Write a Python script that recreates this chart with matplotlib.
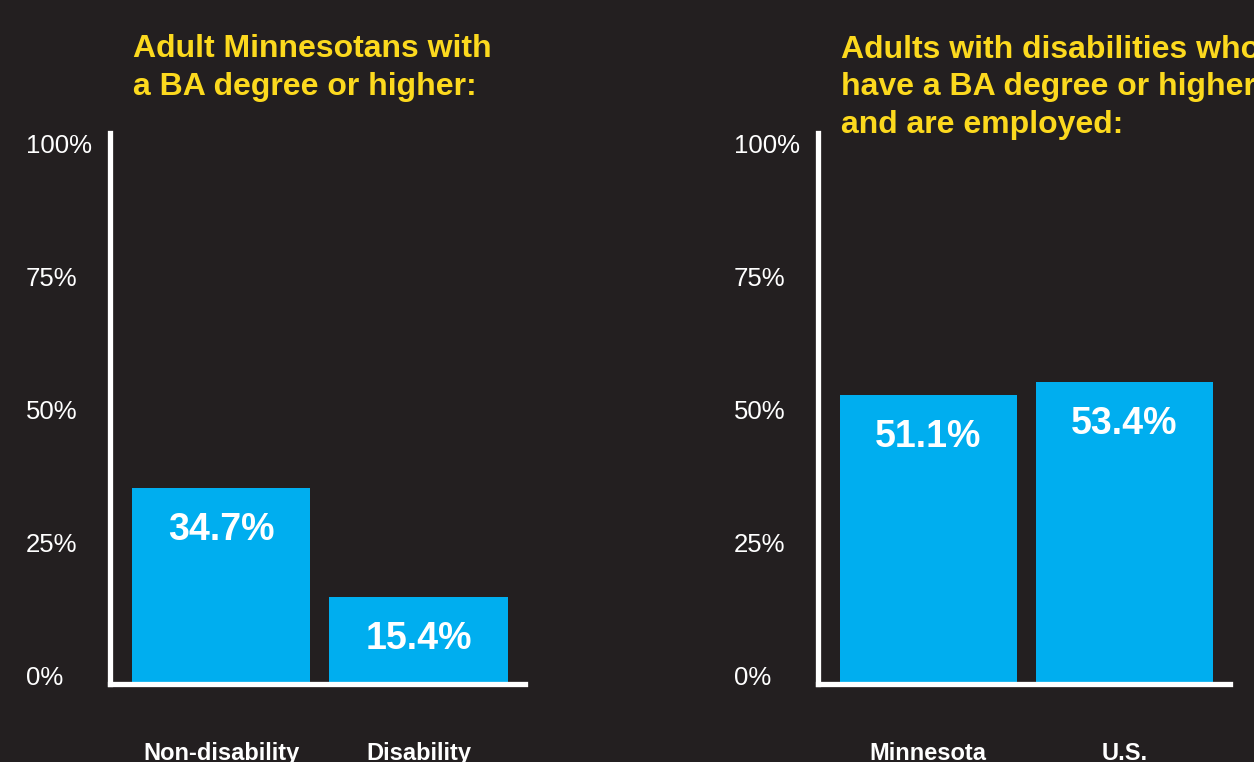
import matplotlib
matplotlib.use("Agg")
import matplotlib.pyplot as plt

# Data
left_categories = ["Non-disability", "Disability"]
left_values = [34.7, 15.4]
left_title = "Adult Minnesotans with\na BA degree or higher:"

right_categories = ["Minnesota", "U.S."]
right_values = [51.1, 53.4]
right_title = "Adults with disabilities who\nhave a BA degree or higher\nand are employed:"

tick_values = [0, 25, 50, 75, 100]
tick_labels = ["0%", "25%", "50%", "75%", "100%"]

BG = "#231f20"
BAR = "#00aeef"
YELLOW = "#fcd91e"
WHITE = "#ffffff"

plt.rcParams["font.family"] = ["Liberation Sans", "DejaVu Sans"]

fig = plt.figure(figsize=(12.54, 7.62), dpi=100, facecolor=BG)

W, H = 1254.0, 762.0


def panel(x0_px, x1_px, cats, vals, title, title_x_px, title_base_px):
    bottom = (H - 684) / H
    top = (H - 133) / H
    rect = [x0_px / W, bottom, (x1_px - x0_px) / W, top - bottom]

    # Label scale for the percent ticks
    axt = fig.add_axes(rect)
    axt.set_facecolor("none")
    axt.set_xlim(0, 1)
    axt.set_ylim(-1.69, 101.9)
    axt.set_yticks(tick_values)
    axt.set_yticklabels(tick_labels)
    axt.tick_params(axis="y", length=0, pad=60.5, labelsize=18.5, labelcolor=WHITE)
    for lab in axt.get_yticklabels():
        lab.set_horizontalalignment("left")
    axt.set_xticks([])
    for s in axt.spines.values():
        s.set_visible(False)

    ax = fig.add_axes(rect)
    ax.set_facecolor("none")
    x = list(range(len(cats)))
    bars = ax.bar(x, vals, width=0.9036, color=BAR, zorder=2)
    ax.set_xlim(-0.563, len(cats) - 1 + 0.54)
    ax.set_ylim(0, 97.5)
    ax.set_yticks([])
    ax.set_xticks(x)
    ax.set_xticklabels(cats, fontweight="bold", fontsize=17, color=WHITE)
    ax.tick_params(axis="x", length=0, pad=42)
    for side in ("top", "right"):
        ax.spines[side].set_visible(False)
    for side in ("left", "bottom"):
        ax.spines[side].set_color(WHITE)
        ax.spines[side].set_linewidth(3.8)
        ax.spines[side].set_zorder(3)
        ax.spines[side].set_capstyle("projecting")

    for b, v in zip(bars, vals):
        ax.annotate(f"{v:.1f}%", xy=(b.get_x() + b.get_width() / 2, v),
                    xytext=(0, -37.5), textcoords="offset points",
                    ha="center", va="baseline", fontsize=27,
                    fontweight="bold", color=WHITE, zorder=4)

    # baseline alignment refers to the last line of a multi-line title
    fig.text(title_x_px / W, (H - title_base_px) / H, title, ha="left",
             va="baseline", fontsize=23, fontweight="bold", color=YELLOW,
             linespacing=1.33)
    return ax


panel(110, 525, left_categories, left_values, left_title, 133, 95)
panel(818, 1230, right_categories, right_values, right_title, 841, 133)

fig.savefig("out.png", dpi=100, facecolor=BG)
